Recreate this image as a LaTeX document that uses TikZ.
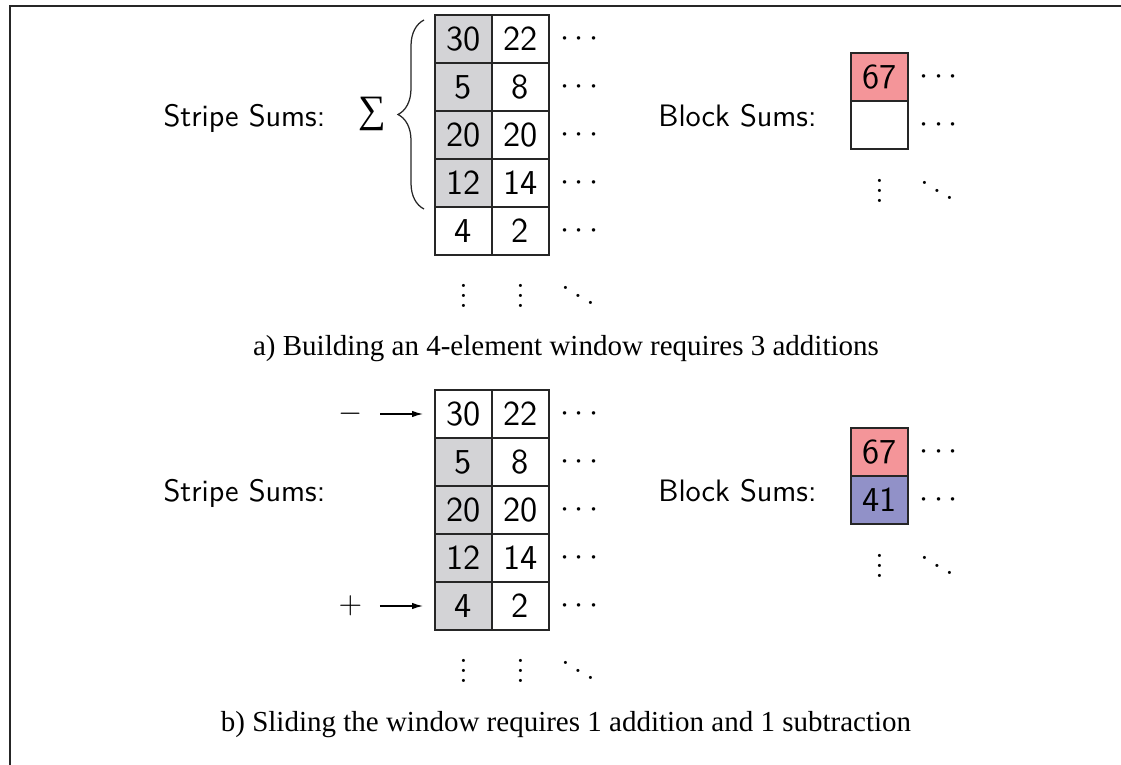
\RequirePackage{fix-cm}
\documentclass[tikz,border=0pt]{standalone}
\usepackage{amsmath}
\usepackage{fontspec}
\newfontfamily\capfont{Liberation Serif}
\usetikzlibrary{decorations.pathreplacing,arrows.meta}
\definecolor{cellgray}{RGB}{211,211,214}
\definecolor{sumred}{RGB}{244,149,153}
\definecolor{sumblue}{RGB}{145,145,200}

\begin{document}
\begin{tikzpicture}[x=0.4pt,y=-0.4pt,
  cell/.style={draw=black!85, line width=0.8pt, minimum width=22.8pt,
    minimum height=19.2pt, inner sep=0pt, font=\fontsize{14}{16}\sffamily},
  dotsnode/.style={inner sep=0pt, font=\fontsize{13}{15}\selectfont},
  sumlabel/.style={inner sep=0pt, font=\fontsize{12.4}{15}\sffamily},
  capt/.style={inner sep=0pt, font=\fontsize{11.6}{14}\capfont},
  arr/.style={line width=0.5pt, -{Latex[length=4.4pt,width=2.6pt]}},
]
\useasboundingbox (0,0) rectangle (1121,765);

% frame
\draw[line width=0.8pt, black!85] (9.5,765) -- (9.5,6.5) -- (1121,6.5);

% ---------- a) building the window ----------
\foreach \r/\vl/\vr/\fa/\fb in {1/30/22/cellgray/white, 2/5/8/cellgray/cellgray,
    3/20/20/cellgray/cellgray, 4/12/14/cellgray/cellgray, 5/4/2/white/cellgray}{
  \node[cell, fill=\fa] (a-\r-1) at (463.5,{48*\r-9}) {\vl};
  \node[cell, fill=white] (a-\r-2) at (520.5,{48*\r-9}) {\vr};
  \node[dotsnode] (a-\r-3) at (582,{48*\r-9}) {$\cdots$};
  \node[cell, fill=\fb] (b-\r-1) at (463.5,{48*\r+366}) {\vl};
  \node[cell, fill=white] (b-\r-2) at (520.5,{48*\r+366}) {\vr};
  \node[dotsnode] (b-\r-3) at (582,{48*\r+366}) {$\cdots$};
}
\node[dotsnode] (a-v1) at (463.5,288) {$\vdots$};
\node[dotsnode] (a-v2) at (520.5,288) {$\vdots$};
\node[dotsnode] (a-dd) at (578,288) {$\ddots$};

\node[sumlabel, anchor=base west] (stripe-a) at (163,127) {Stripe Sums:};
\node[inner sep=0pt, font=\fontsize{15.5}{17}\capfont] (sigma) at (372.5,114) {∑};
\coordinate (br-top) at (424,20);
\coordinate (br-bot) at (424,209);
\draw[line width=0.5pt, black!85, decorate, decoration={brace, amplitude=10.4pt}]
  (br-bot) -- (br-top);

\node[sumlabel, anchor=base east] (block-a) at (817,127) {Block Sums:};
\node[cell, fill=sumred] (ba-1) at (879.5,77) {67};
\node[cell, fill=white] (ba-2) at (879.5,125) {};
\node[dotsnode] (ba-1d) at (941.5,77) {$\cdots$};
\node[dotsnode] (ba-2d) at (941.5,125) {$\cdots$};
\node[dotsnode] (ba-v) at (879.5,183) {$\vdots$};
\node[dotsnode] (ba-dd) at (937,183) {$\ddots$};

\node[capt, anchor=base] (cap-a) at (566,356)
  {a) Building an 4-element window requires 3 additions};

% ---------- b) sliding the window ----------
\node[dotsnode] (b-v1) at (463.5,663) {$\vdots$};
\node[dotsnode] (b-v2) at (520.5,663) {$\vdots$};
\node[dotsnode] (b-dd) at (578,663) {$\ddots$};

\node[sumlabel, anchor=base west] (stripe-b) at (163,502) {Stripe Sums:};
\node[sumlabel] (minus) at (350.5,414) {$-$};
\node[sumlabel] (plus) at (350.5,606) {$+$};
\draw[arr, shorten <=6.8pt, shorten >=4.4pt] (minus.east) -- (b-1-1.west);
\draw[arr, shorten <=6.8pt, shorten >=4.4pt] (plus.east) -- (b-5-1.west);

\node[sumlabel, anchor=base east] (block-b) at (817,502) {Block Sums:};
\node[cell, fill=sumred] (bb-1) at (879.5,452) {67};
\node[cell, fill=sumblue] (bb-2) at (879.5,500) {41};
\node[dotsnode] (bb-1d) at (941.5,452) {$\cdots$};
\node[dotsnode] (bb-2d) at (941.5,500) {$\cdots$};
\node[dotsnode] (bb-v) at (879.5,558) {$\vdots$};
\node[dotsnode] (bb-dd) at (937,558) {$\ddots$};

\node[capt, anchor=base] (cap-b) at (566,731)
  {b) Sliding the window requires 1 addition and 1 subtraction};
\end{tikzpicture}
\end{document}
